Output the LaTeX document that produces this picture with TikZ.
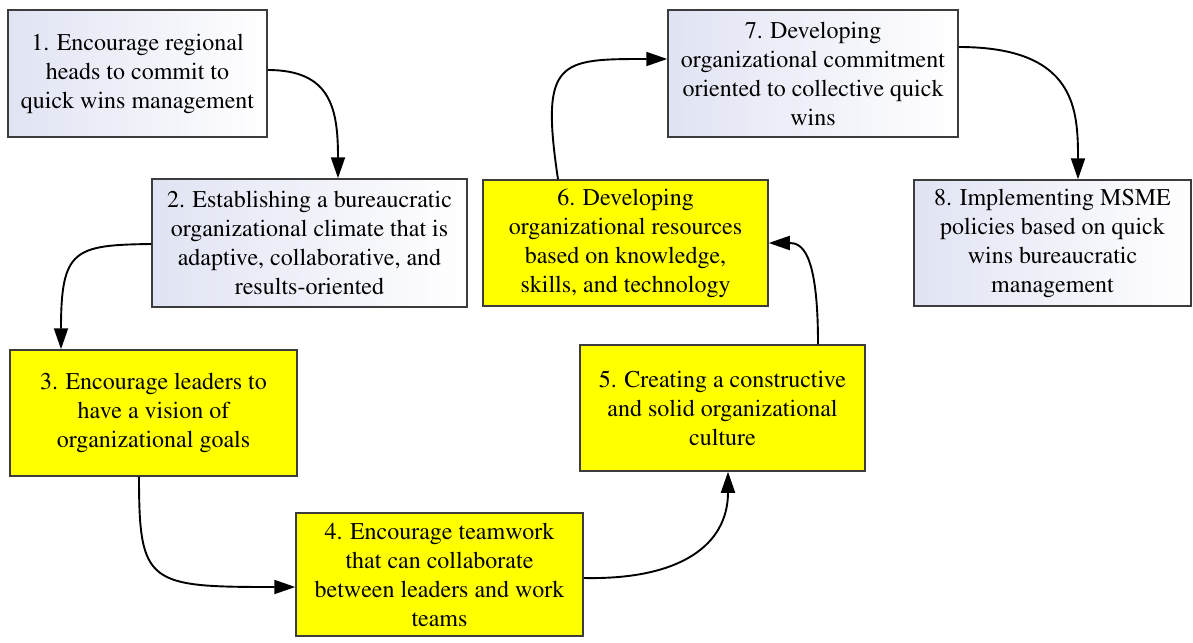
\documentclass[tikz,border=0pt]{standalone}
\usepackage[T1]{fontenc}
\renewcommand{\rmdefault}{ptm}
\usetikzlibrary{arrows.meta,shadings}
\definecolor{lav}{RGB}{224,227,243}
\definecolor{edgegray}{RGB}{60,60,60}
\definecolor{boxyellow}{RGB}{255,255,0}
\tikzset{
  boxbase/.style={draw=edgegray, line width=1.5pt, align=center, inner sep=2pt,
    font=\rmfamily\fontsize{24}{29}\selectfont, text=black},
  bluebox/.style={boxbase, left color=lav, right color=white},
  yellowbox/.style={boxbase, fill=boxyellow},
  arr/.style={line width=1.9pt, -{Triangle[length=21pt,width=14pt]}}
}
\begin{document}
\begin{tikzpicture}[x=1pt,y=-1pt]
\useasboundingbox (0,0) rectangle (1193,642);
\node[bluebox, minimum width=259pt, minimum height=127pt] (n1) at (137.5,73.5)
  {1. Encourage regional\\heads to commit to\\quick wins management};
\node[bluebox, minimum width=315pt, minimum height=128pt] (n2) at (309.5,243)
  {2. Establishing a bureaucratic\\organizational climate that is\\adaptive, collaborative, and\\results-oriented};
\node[yellowbox, minimum width=287pt, minimum height=126pt] (n3) at (153.5,413)
  {3. Encourage leaders to\\have a vision of\\organizational goals};
\node[yellowbox, minimum width=287pt, minimum height=123pt] (n4) at (439.5,574.5)
  {4. Encourage teamwork\\that can collaborate\\between leaders and work\\teams};
\node[yellowbox, minimum width=285pt, minimum height=126pt] (n5) at (722.5,408)
  {5. Creating a constructive\\and solid organizational\\culture};
\node[yellowbox, minimum width=285pt, minimum height=126pt] (n6) at (625.5,243)
  {6. Developing\\organizational resources\\based on knowledge,\\skills, and technology};
\node[bluebox, minimum width=290pt, minimum height=127pt] (n7) at (813,73.5)
  {7. Developing\\organizational commitment\\oriented to collective quick\\wins};
\node[bluebox, minimum width=277pt, minimum height=126pt] (n8) at (1052.5,243)
  {8. Implementing MSME\\policies based on quick\\wins bureaucratic\\management};

\draw[arr] ([yshift=3.5pt]n1.east) .. controls +(63,0) and +(0,-70) .. ([xshift=28.5pt]n2.north);
\draw[arr] ([yshift=-1pt]n2.west) .. controls +(-77,1) and +(0,-100) .. ([xshift=-92.5pt]n3.north);
\draw[arr] ([xshift=-14.5pt]n3.south) .. controls +(0,108) and +(-147,0) .. ([yshift=-12.5pt]n4.west);
\draw[arr] ([yshift=-3.5pt]n4.east) .. controls +(97,2) and +(0,73) .. ([xshift=5.5pt]n5.south);
\draw[arr] ([xshift=95.5pt]n5.north) .. controls +(0,-95) and +(32,0) .. (n6.east);
\draw[arr] ([xshift=-67.5pt]n6.north) .. controls +(-18,-120) and +(-108,0) .. ([yshift=14.5pt]n7.west);
\draw[arr] ([yshift=26.5pt]n7.east) .. controls +(117,0) and +(0,-70) .. ([xshift=25.5pt]n8.north);
\end{tikzpicture}
\end{document}
